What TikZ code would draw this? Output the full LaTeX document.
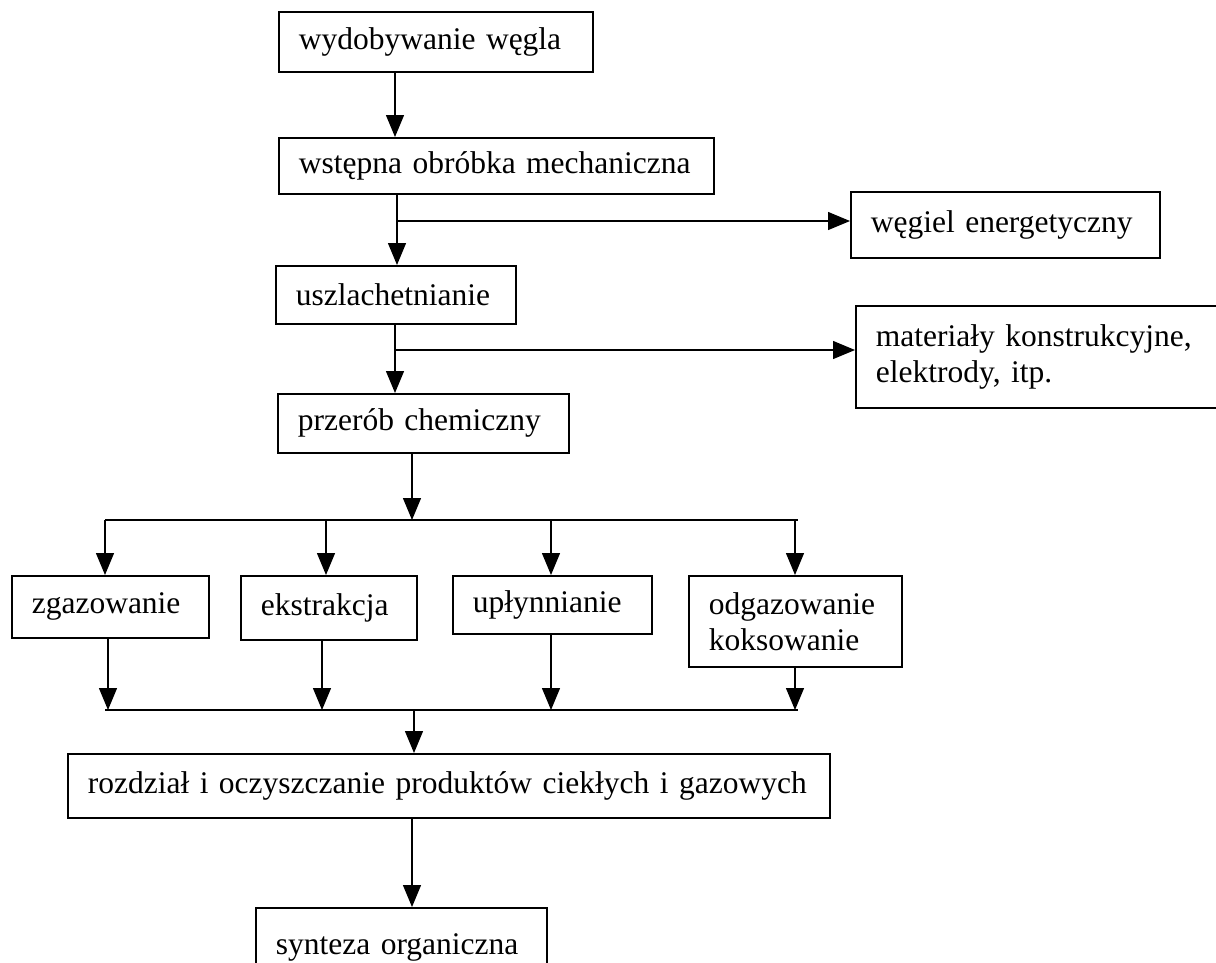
\documentclass[tikz,border=0pt]{standalone}
\usepackage{fontspec}
\setmainfont{Liberation Serif}
\usetikzlibrary{arrows.meta}
\begin{document}
\begin{tikzpicture}[x=1pt,y=-1pt,
  box/.style={draw, line width=1.6pt, anchor=north west, align=left, inner xsep=20pt, inner ysep=0pt,
    font=\fontsize{31.5}{36}\selectfont},
  arr/.style={line width=1.3pt, -{Triangle[length=22pt,width=18pt]}},
  ln/.style={line width=1.3pt},
  bus/.style={line width=1.8pt}]
\clip (0,0) rectangle (1216,962);
\fill[white] (0,0) rectangle (1216,962);
% boxes
\node[box, text width=274pt, minimum height=60pt] (b1) at (278,11) {wydobywanie węgla};
\node[box, text width=395pt, minimum height=56pt] (b2) at (278,137) {wstępna obróbka mechaniczna};
\node[box, text width=200pt, minimum height=58pt] (b3) at (275,265) {uszlachetnianie};
\node[box, text width=251pt, minimum height=59pt] (b4) at (277,393) {przerób chemiczny};
\node[box, text width=269pt, minimum height=66pt] (weg) at (850,191) {węgiel energetyczny};
\node[box, text width=340pt, minimum height=102pt] (mat) at (855,305) {materiały konstrukcyjne,\\elektrody, itp.};
\node[box, text width=157pt, minimum height=62pt] (zg) at (11,575) {zgazowanie};
\node[box, text width=136pt, minimum height=64pt] (ek) at (240,575) {ekstrakcja};
\node[box, text width=159pt, minimum height=58pt] (up) at (452,575) {upłynnianie};
\node[box, text width=173pt, minimum height=91pt] (od) at (688,575) {odgazowanie\\koksowanie};
\node[box, text width=722pt, minimum height=64pt] (roz) at (67,753) {rozdział i oczyszczanie produktów ciekłych i gazowych};
\node[box, text width=251pt, minimum height=80pt] (syn) at (255,907) {synteza organiczna};
% helper coordinates
\coordinate (xa) at (395,0);
\coordinate (xb) at (397,0);
\coordinate (xc) at (412,0);
\coordinate (xd) at (414,0);
\coordinate (j1) at (397,221);
\coordinate (j2) at (395,350);
\coordinate (bus1L) at (105,520);
\coordinate (bus1R) at (798,520);
\coordinate (bus2L) at (105,710);
\coordinate (bus2R) at (798,710);
\coordinate (x1) at (105,0);
\coordinate (x2) at (326,0);
\coordinate (x3) at (551,0);
\coordinate (x4) at (795,0);
\coordinate (y1) at (108,0);
\coordinate (y2) at (322,0);
% main trunk
\draw[arr] (b1.south -| xa) -- (b2.north -| xa);
\draw[arr] (b2.south -| xb) -- (b3.north -| xb);
\draw[arr] (j1) -- (j1 -| weg.west);
\draw[arr] (b3.south -| xa) -- (b4.north -| xa);
\draw[arr] (j2) -- (j2 -| mat.west);
\draw[arr] (b4.south -| xc) -- (bus1L -| xc);
% upper bus
\draw[bus] (bus1L) -- (bus1R);
\draw[arr] (bus1L -| x1) -- (zg.north -| x1);
\draw[arr] (bus1L -| x2) -- (ek.north -| x2);
\draw[arr] (bus1L -| x3) -- (up.north -| x3);
\draw[arr] (bus1L -| x4) -- (od.north -| x4);
% lower bus
\draw[arr] (zg.south -| y1) -- (bus2L -| y1);
\draw[arr] (ek.south -| y2) -- (bus2L -| y2);
\draw[arr] (up.south -| x3) -- (bus2L -| x3);
\draw[arr] (od.south -| x4) -- (bus2L -| x4);
\draw[bus] (bus2L) -- (bus2R);
\draw[arr] (bus2L -| xd) -- (roz.north -| xd);
\draw[arr] (roz.south -| xc) -- (syn.north -| xc);
\end{tikzpicture}
\end{document}
